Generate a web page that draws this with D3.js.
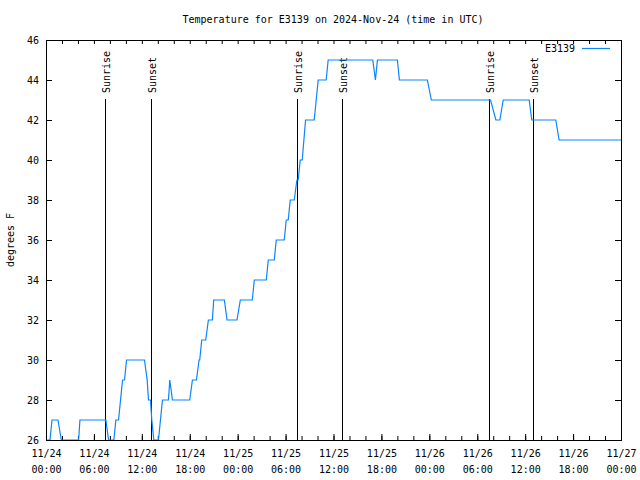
<!DOCTYPE html>
<html>
<head>
<meta charset="utf-8">
<script src="https://cdn.jsdelivr.net/npm/d3@7"></script>
<style>
  body { margin: 0; background: #fff; }
  svg { display: block; }
  text { font-family: "DejaVu Sans Mono", "Liberation Mono", monospace; font-size: 10px; fill: #000; }
</style>
</head>
<body>
<svg id="chart" width="640" height="480"></svg>
<script>
// ---- data ----
const title = "Temperature for E3139 on 2024-Nov-24 (time in UTC)";
const seriesName = "E3139";
const yLabel = "degrees F";
const times = [
  "2024-11-24T00:00","2024-11-24T00:30","2024-11-24T00:45","2024-11-24T01:30","2024-11-24T01:55",
  "2024-11-24T04:05","2024-11-24T04:15","2024-11-24T07:30","2024-11-24T07:50","2024-11-24T08:30",
  "2024-11-24T08:45","2024-11-24T09:05","2024-11-24T09:20","2024-11-24T09:35","2024-11-24T09:50",
  "2024-11-24T10:05","2024-11-24T12:20","2024-11-24T12:40","2024-11-24T12:50","2024-11-24T13:05",
  "2024-11-24T13:15","2024-11-24T13:30","2024-11-24T14:05","2024-11-24T14:20","2024-11-24T14:35",
  "2024-11-24T15:20","2024-11-24T15:30","2024-11-24T15:50","2024-11-24T18:00","2024-11-24T18:20",
  "2024-11-24T18:50","2024-11-24T19:10","2024-11-24T19:15","2024-11-24T19:30","2024-11-24T20:00",
  "2024-11-24T20:20","2024-11-24T20:50","2024-11-24T21:00","2024-11-24T22:20","2024-11-24T22:40",
  "2024-11-24T23:55","2024-11-25T00:20","2024-11-25T01:50","2024-11-25T02:05","2024-11-25T03:35",
  "2024-11-25T03:50","2024-11-25T04:35","2024-11-25T04:50","2024-11-25T05:50","2024-11-25T06:05",
  "2024-11-25T06:20","2024-11-25T06:35","2024-11-25T07:05","2024-11-25T07:25","2024-11-25T07:35",
  "2024-11-25T07:50","2024-11-25T08:05","2024-11-25T08:30","2024-11-25T09:35","2024-11-25T10:05",
  "2024-11-25T11:05","2024-11-25T11:20","2024-11-25T16:55","2024-11-25T17:15","2024-11-25T17:30",
  "2024-11-25T20:00","2024-11-25T20:15","2024-11-25T23:45","2024-11-26T00:15","2024-11-26T07:40",
  "2024-11-26T08:20","2024-11-26T08:50","2024-11-26T09:15","2024-11-26T12:30","2024-11-26T12:50",
  "2024-11-26T15:50","2024-11-26T16:15","2024-11-27T00:00"
];
const temps = [
  26,26,27,27,26,
  26,27,27,26,26,
  27,27,28,29,29,
  30,30,29,28,28,
  27,26,26,27,28,
  28,29,28,28,29,
  29,30,30,31,31,
  32,32,33,33,32,
  32,33,33,34,34,
  35,35,36,36,37,
  37,38,38,39,39,
  40,40,42,42,44,
  44,45,45,44,45,
  45,44,44,43,43,
  42,42,43,43,42,
  42,41,41
];
const eventTimes = ["2024-11-24T07:26","2024-11-24T13:11","2024-11-25T07:28","2024-11-25T13:06","2024-11-26T07:31","2024-11-26T12:56"];
const eventLabels = ["Sunrise","Sunset","Sunrise","Sunset","Sunrise","Sunset"];
const xDomain = ["2024-11-24T00:00","2024-11-27T00:00"];
const yTicks = [26,28,30,32,34,36,38,40,42,44,46];

// ---- layout ----
const svg = d3.select("#chart");
const L = 46, R = 621, T = 40, B = 440;
const parse = s => new Date(s + ":00Z");
const x = d3.scaleUtc().domain(xDomain.map(parse)).range([L, R]);
const y = d3.scaleLinear().domain([26, 46]).range([B, T]);
const lineColor = "#0a84ff";

// title
svg.append("text").attr("x", 333).attr("y", 23).attr("text-anchor", "middle").text(title);

// y label
svg.append("text").attr("transform", "translate(14,240) rotate(-90)")
  .attr("text-anchor", "middle").text(yLabel);

// axes
const majorX = d3.utcHour.every(6).range(x.domain()[0], new Date(x.domain()[1].getTime() + 1));
const minorX = d3.utcHour.every(2).range(x.domain()[0], new Date(x.domain()[1].getTime() + 1));

function styleAxis(g) {
  g.select(".domain").remove();
  g.selectAll(".tick line").attr("stroke", "#000").attr("stroke-width", 1);
}

svg.append("g").attr("transform", `translate(0,${B})`)
  .call(d3.axisBottom(x).tickValues(minorX).tickSize(-4).tickFormat(""))
  .call(styleAxis).selectAll("text").remove();
svg.append("g").attr("transform", `translate(0,${T})`)
  .call(d3.axisTop(x).tickValues(minorX).tickSize(-4).tickFormat(""))
  .call(styleAxis).selectAll("text").remove();

const xLab = svg.append("g").attr("transform", `translate(0,${B})`)
  .call(d3.axisBottom(x).tickValues(majorX).tickSize(-6).tickPadding(0))
  .call(styleAxis);
xLab.selectAll(".tick text").each(function(d) {
  const t = d3.select(this);
  t.text(null).attr("y", 0).attr("dy", null).attr("font-family", null).attr("font-size", null);
  t.append("tspan").attr("x", 0).attr("y", 17).text(d3.utcFormat("%m/%d")(d));
  t.append("tspan").attr("x", 0).attr("y", 33).text(d3.utcFormat("%H:%M")(d));
});

svg.append("g").attr("transform", `translate(${L},0)`)
  .call(d3.axisLeft(y).tickValues(yTicks).tickSize(-6).tickPadding(7).tickFormat(d3.format("d")))
  .call(styleAxis)
  .selectAll("text").attr("font-family", null).attr("font-size", null).attr("dy", "0.35em");
svg.append("g").attr("transform", `translate(${R},0)`)
  .call(d3.axisRight(y).tickValues(yTicks).tickSize(-6).tickFormat(""))
  .call(styleAxis);

// event lines
const events = eventTimes.map((t, i) => ({ t: parse(t), label: eventLabels[i] }));
const ev = svg.append("g");
ev.selectAll("line").data(events).join("line")
  .attr("x1", d => Math.round(x(d.t)) + 0.5).attr("x2", d => Math.round(x(d.t)) + 0.5)
  .attr("y1", 99).attr("y2", B)
  .attr("stroke", "#000").attr("stroke-width", 1);
ev.selectAll("text").data(events).join("text")
  .attr("transform", d => `translate(${Math.round(x(d.t)) + 5},93) rotate(-90)`)
  .attr("text-anchor", "start").text(d => d.label);

// data line
const data = times.map((t, i) => ({ t: parse(t), v: temps[i] }));
svg.append("path").datum(data)
  .attr("fill", "none").attr("stroke", lineColor).attr("stroke-width", 1.2)
  .attr("d", d3.line().x(d => x(d.t)).y(d => y(d.v)));

// border
svg.append("rect").attr("x", L + 0.5).attr("y", T + 0.5).attr("width", R - L).attr("height", B - T)
  .attr("fill", "none").attr("stroke", "#000").attr("stroke-width", 1);

// legend
svg.append("text").attr("x", 575).attr("y", 52).attr("text-anchor", "end").text(seriesName);
svg.append("line").attr("x1", 582).attr("x2", 610).attr("y1", 48.5).attr("y2", 48.5)
  .attr("stroke", lineColor).attr("stroke-width", 1.2);
</script>
</body>
</html>
